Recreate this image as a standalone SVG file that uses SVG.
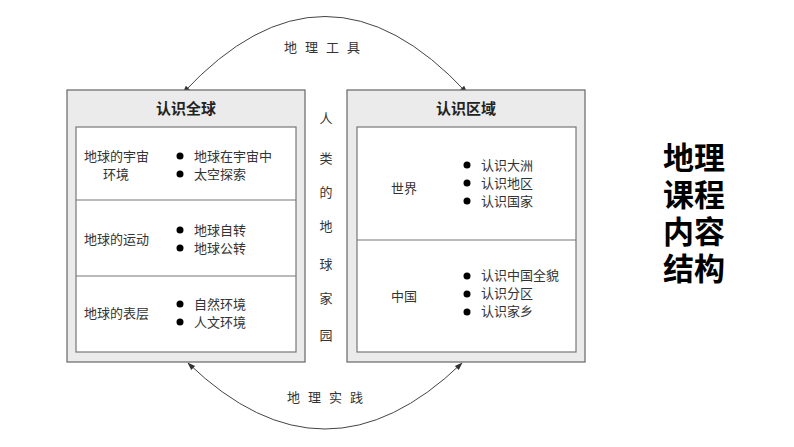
<svg xmlns="http://www.w3.org/2000/svg" width="794" height="447" viewBox="0 0 794 447">
<style>
text{font-family:"Noto Sans CJK SC","Liberation Serif",serif;fill:#333}
.s{font-family:"Noto Sans CJK SC",serif;font-size:13px;font-weight:400}
.t{font-size:15px;font-weight:bold;fill:#222}
.o{fill:#ebebeb;stroke:#666;stroke-width:1.2}
.i{fill:#fff;stroke:#777;stroke-width:1.2}
.a{fill:none;stroke:#444;stroke-width:1}
.big{font-size:31px;font-weight:bold;fill:#000}
</style>
<defs><marker id="m" viewBox="0 0 10 10" refX="9" refY="5" markerWidth="8" markerHeight="8" orient="auto-start-reverse"><path d="M0,1.5L10,5L0,8.5z" fill="#333"/></marker></defs>
<rect width="794" height="447" fill="#fff"/>
<g id="connectors">
<path class="a" d="M183,93 Q325,-60 467,93" marker-start="url(#m)" marker-end="url(#m)"/>
<path class="a" d="M188,363 Q325,495 462,363" marker-start="url(#m)" marker-end="url(#m)"/>
</g>
<g id="labels">
<text class="s" x="326" y="52" text-anchor="middle" letter-spacing="8">地理工具</text>
<text class="s" x="329" y="402" text-anchor="middle" letter-spacing="8">地理实践</text>
<g class="s" text-anchor="middle">
<text x="326" y="123">人</text><text x="326" y="163">类</text><text x="326" y="197">的</text><text x="326" y="231">地</text><text x="326" y="269">球</text><text x="326" y="303">家</text><text x="326" y="340">园</text>
</g>
</g>
<g id="left">
<rect class="o" x="67" y="90" width="238" height="272"/>
<text class="t" x="186" y="114" text-anchor="middle">认识全球</text>
<rect class="i" x="76" y="127" width="220" height="225"/>
<line x1="76" y1="200" x2="296" y2="200" stroke="#777" stroke-width="1.2"/>
<line x1="76" y1="276" x2="296" y2="276" stroke="#777" stroke-width="1.2"/>
<g class="s">
<text x="84" y="161">地球的宇宙</text><text x="103" y="179">环境</text>
<text x="194" y="161">地球在宇宙中</text><text x="194" y="179">太空探索</text>
<text x="84" y="244">地球的运动</text>
<text x="194" y="235">地球自转</text><text x="194" y="253">地球公转</text>
<text x="84" y="318">地球的表层</text>
<text x="194" y="309">自然环境</text><text x="194" y="327">人文环境</text>
</g>
<g fill="#000"><circle cx="180" cy="156" r="3.5"/><circle cx="180" cy="174" r="3.5"/><circle cx="180" cy="230" r="3.5"/><circle cx="180" cy="248" r="3.5"/><circle cx="180" cy="304" r="3.5"/><circle cx="180" cy="322" r="3.5"/></g>
</g>
<g id="right">
<rect class="o" x="347" y="90" width="238" height="272"/>
<text class="t" x="466" y="114" text-anchor="middle">认识区域</text>
<rect class="i" x="357" y="127" width="219" height="225"/>
<line x1="357" y1="240" x2="576" y2="240" stroke="#777" stroke-width="1.2"/>
<g class="s">
<text x="391" y="193">世界</text>
<text x="481" y="170">认识大洲</text><text x="481" y="188">认识地区</text><text x="481" y="206">认识国家</text>
<text x="391" y="301">中国</text>
<text x="481" y="280">认识中国全貌</text><text x="481" y="298">认识分区</text><text x="481" y="316">认识家乡</text>
</g>
<g fill="#000"><circle cx="467" cy="165" r="3.5"/><circle cx="467" cy="183" r="3.5"/><circle cx="467" cy="201" r="3.5"/><circle cx="467" cy="276" r="3.5"/><circle cx="467" cy="294" r="3.5"/><circle cx="467" cy="312" r="3.5"/></g>
</g>
<g id="title" text-anchor="middle">
<text class="big" x="694" y="169">地理</text><text class="big" x="694" y="206">课程</text><text class="big" x="694" y="243">内容</text><text class="big" x="694" y="280">结构</text>
</g>
</svg>
